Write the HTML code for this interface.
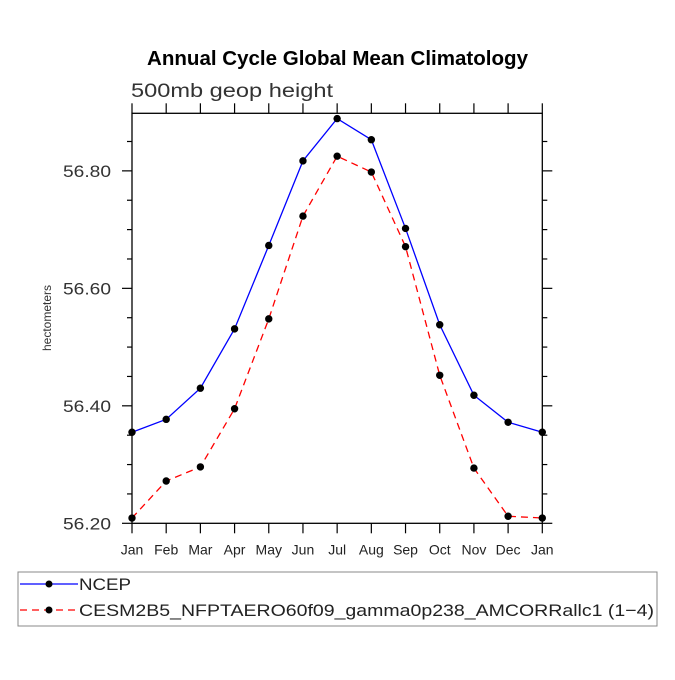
<!DOCTYPE html>
<html><head><meta charset="utf-8"><style>
body{margin:0;background:#fff;}
svg text{font-family:"Liberation Sans",sans-serif;}
</style></head><body>
<svg id="c" width="675" height="675" viewBox="0 0 675 675">
<text x="147" y="65" textLength="381" lengthAdjust="spacingAndGlyphs" font-size="20" font-weight="bold">Annual Cycle Global Mean Climatology</text>
<text x="131" y="97" textLength="202" lengthAdjust="spacingAndGlyphs" font-size="19" fill="#333">500mb geop height</text>
<text transform="translate(51,318) rotate(-90)" text-anchor="middle" font-size="12" fill="#333">hectometers</text>
<g id="axes"></g>
<g id="series"></g>
<rect x="18" y="572" width="639" height="54" fill="none" stroke="#888"/>
<g>
<line x1="20" y1="584" x2="78" y2="584" stroke="#00f" stroke-width="1.3"/>
<circle cx="49" cy="584" r="3.5" fill="#000"/>
<text x="79" y="590" textLength="52" lengthAdjust="spacingAndGlyphs" font-size="17" fill="#222">NCEP</text></g>
<g>
<line x1="20" y1="610" x2="78" y2="610" stroke="#f00" stroke-width="1.3" stroke-dasharray="7,5"/>
<circle cx="49" cy="610" r="3.5" fill="#000"/>
<text x="79" y="616" textLength="575" lengthAdjust="spacingAndGlyphs" font-size="17" fill="#222">CESM2B5_NFPTAERO60f09_gamma0p238_AMCORRallc1 (1−4)</text></g>
</svg>
<script>
const months=["Jan","Feb","Mar","Apr","May","Jun","Jul","Aug","Sep","Oct","Nov","Dec","Jan"];
const ncep=[56.355,56.377,56.430,56.531,56.673,56.817,56.889,56.853,56.702,56.538,56.418,56.372,56.355];
const cesm=[56.209,56.272,56.296,56.395,56.548,56.723,56.825,56.798,56.671,56.452,56.294,56.212,56.209];
const yTicks=[56.20,56.40,56.60,56.80];
const yMin=56.2,yMax=56.898;
const L=132,R=542.3,T=113.3,B=523.3;
const NS="http://www.w3.org/2000/svg";
function X(i){return L+(R-L)*i/(months.length-1);}
function Y(v){return B-(v-yMin)/(yMax-yMin)*(B-T);}
function mk(tag,attrs,parent){const e=document.createElementNS(NS,tag);for(const k in attrs)e.setAttribute(k,attrs[k]);parent.appendChild(e);return e;}
const ax=document.getElementById('axes');
const frame=mk('rect',{x:L,y:T,width:R-L,height:B-T,fill:'none',stroke:'#000','stroke-width':1.3},ax);


months.forEach((m,i)=>{
  const x=X(i);
  mk('line',{x1:x,y1:B,x2:x,y2:B+10,stroke:'#000','stroke-width':1.2},ax);
  mk('line',{x1:x,y1:T,x2:x,y2:T-10,stroke:'#000','stroke-width':1.2},ax);
  const t=mk('text',{x:x,y:B+31,'text-anchor':'middle','font-size':14,fill:'#222'},ax);
  t.textContent=m;
  
  
});
for(let v=yMin;v<=yMax+1e-9;v+=0.05){
  const y=Y(v);const major=Math.abs((v-yMin)/0.2-Math.round((v-yMin)/0.2))<1e-6;
  const len=major?10:5;
  mk('line',{x1:L,y1:y,x2:L-len,y2:y,stroke:'#000','stroke-width':1.2},ax);
  mk('line',{x1:R,y1:y,x2:R+len,y2:y,stroke:'#000','stroke-width':1.2},ax);
}
yTicks.forEach(v=>{
  const t=mk('text',{x:111,y:Y(v)+6,'text-anchor':'end','font-size':17,textLength:48,lengthAdjust:'spacingAndGlyphs',fill:'#333'},ax);
  t.textContent=v.toFixed(2);
  
  
});
const sg=document.getElementById('series');
function draw(vals,color,dash,name){
  const g=mk('g',{},sg);
  
  
  const p=mk('polyline',{points:vals.map((v,i)=>X(i)+','+Y(v)).join(' '),fill:'none',stroke:color,'stroke-width':1.3},g);
  if(dash)p.setAttribute('stroke-dasharray',dash);
  vals.forEach((v,i)=>{
    const c=mk('circle',{cx:X(i),cy:Y(v),r:3.7,fill:'#000'},g);
    
    
  });
}
draw(ncep,'#00f',null,'ncep-series');
draw(cesm,'#f00','7,5','cesm-series');
</script>
</body></html>
